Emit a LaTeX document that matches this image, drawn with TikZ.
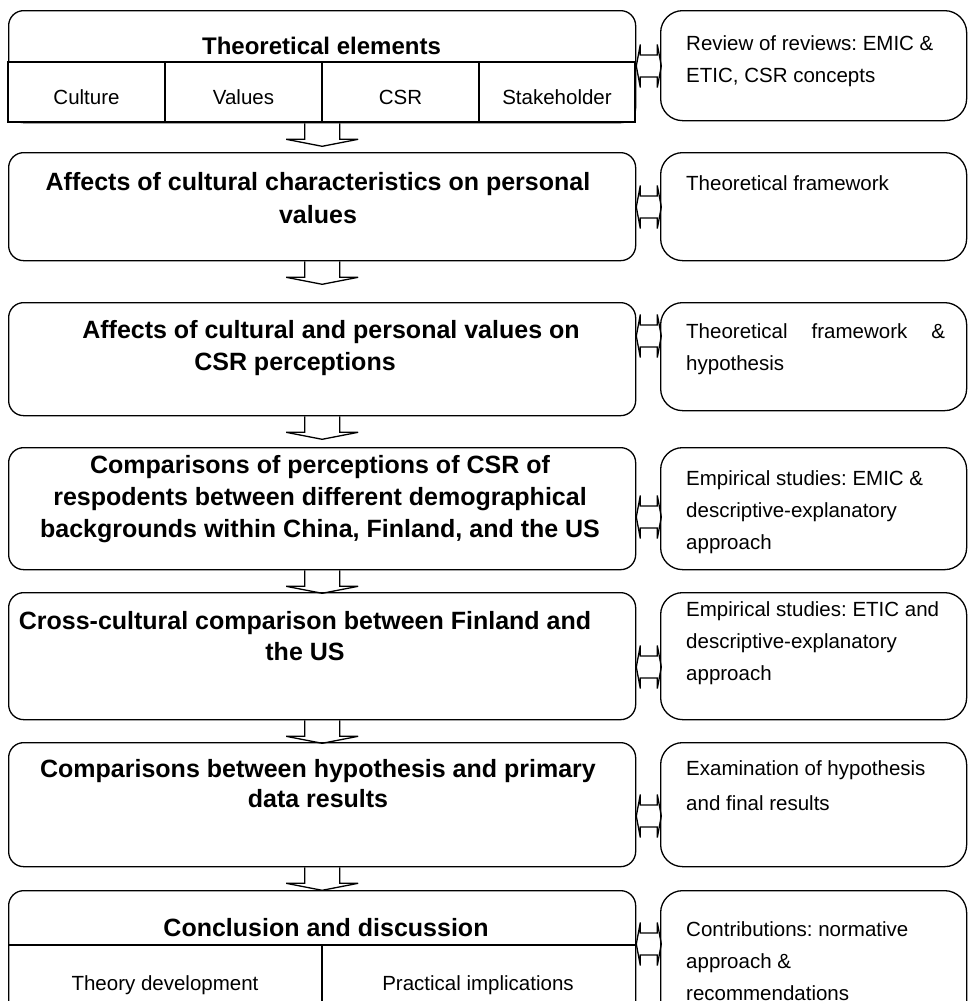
\documentclass[tikz,border=0pt]{standalone}
\usepackage{fontspec}
\setmainfont{Liberation Sans}
\frenchspacing
\begin{document}
\begin{tikzpicture}[x=1pt,y=-1pt,
  box/.style={draw,line width=1.3pt,rounded corners=15pt,inner sep=0pt,anchor=north west},
  rbox/.style={draw,line width=1.3pt,rounded corners=22pt,inner sep=0pt,anchor=north west,minimum width=306pt},
  sqbox/.style={draw,line width=1.3pt,fill=white},
  mtext/.style={font=\fontsize{25}{32}\selectfont\bfseries,align=center,inner sep=0pt},
  ctext/.style={font=\fontsize{20.5}{30}\selectfont,inner sep=0pt},
  rtext/.style={font=\fontsize{20.5}{32}\selectfont,align=left,inner sep=0pt,anchor=west},
  blk/.style={draw,line width=1.3pt,line join=miter}
]
\useasboundingbox (0,0) rectangle (968,1001);

% main boxes
\node[box,minimum width=627pt,minimum height=112pt] (b1) at (8,10) {};
\draw[sqbox] (8,62) rectangle (635,122);
\draw[line width=1.3pt] (165,62) -- (165,122) (322,62) -- (322,122) (479,62) -- (479,122);
\node[box,minimum width=627pt,minimum height=108pt] (b2) at (8,152) {};
\node[box,minimum width=627pt,minimum height=113pt] (b3) at (8,302) {};
\node[box,minimum width=627pt,minimum height=122pt] (b4) at (8,447) {};
\node[box,minimum width=627pt,minimum height=127pt] (b5) at (8,592) {};
\node[box,minimum width=627pt,minimum height=124pt] (b6) at (8,742) {};
\node[box,minimum width=627pt,minimum height=150pt] (b7) at (8,890) {};
\draw[line width=1.3pt] (8,945) -- (635,945) (322,945) -- (322,1040);

% right boxes
\node[rbox,minimum height=110pt] (r1) at (660,10) {};
\node[rbox,minimum height=108pt] (r2) at (660,152) {};
\node[rbox,minimum height=108pt] (r3) at (660,302) {};
\node[rbox,minimum height=122pt] (r4) at (660,447) {};
\node[rbox,minimum height=127pt] (r5) at (660,592) {};
\node[rbox,minimum height=124pt] (r6) at (660,742) {};
\node[rbox,minimum height=150pt] (r7) at (660,890) {};

% texts in main boxes
\node[mtext,font=\fontsize{24}{32}\selectfont\bfseries] (t1) at (321.5,46) {Theoretical elements};
\node[ctext] (c1) at (86.5,97) {Culture};
\node[ctext] (c2) at (243.5,97) {Values};
\node[ctext] (c3) at (400.5,97) {CSR};
\node[ctext] (c4) at (557,97) {Stakeholder};
\node[mtext,font=\fontsize{25}{33}\selectfont\bfseries] (t2) at (318,198.5) {Affects of cultural characteristics on personal\\values};
\node[mtext] (t3a) at (331,332) {Affects of cultural and personal values on};
\node[mtext] (t3b) at (295,364) {CSR perceptions};
\node[mtext] (t4) at (320,499) {Comparisons of perceptions of CSR of\\respodents between different demographical\\backgrounds within China, Finland, and the US};
\node[mtext,font=\fontsize{25}{31}\selectfont\bfseries] (t5) at (305,636) {Cross-cultural comparison between Finland and\\the US};
\node[mtext,font=\fontsize{25}{30}\selectfont\bfseries] (t6) at (318,784) {Comparisons between hypothesis and primary\\data results};
\node[mtext] (t7) at (326,928) {Conclusion and discussion};
\node[ctext] (c5) at (165,985) {Theory development};
\node[ctext] (c6) at (478,985) {Practical implications};

% texts in right boxes
\node[rtext] (s1) at (686,61) {Review of reviews: EMIC \&\\ETIC, CSR concepts};
\node[rtext] (s2) at (686,183) {Theoretical framework};
\node[rtext] (s3) at (686,349) {\makebox[259pt][s]{Theoretical\hfill framework\hfill \&}\\hypothesis};
\node[rtext] (s4) at (686,512.5) {Empirical studies: EMIC \&\\descriptive-explanatory\\approach};
\node[rtext] (s5) at (686,643) {Empirical studies: ETIC and\\descriptive-explanatory\\approach};
\node[rtext,font=\fontsize{20.5}{35}\selectfont] (s6) at (686,786) {Examination of hypothesis\\and final results};
\node[rtext] (s7) at (686,961) {Contributions: normative\\approach \&\\recommendations};

% down block arrows
\foreach \n in {b1,b2,b3,b4,b5,b6}{
  \draw[blk] ([xshift=-17.5pt]\n.south) -- ++(0,16) -- ++(-18.5,0) -- ++(36,7) -- ++(36,-7) -- ++(-18.5,0) -- ++(0,-16);
}

% double block arrows
\foreach \n/\yy in {b1/66,b2/207,b3/336,b4/517,b5/667,b6/816,b7/944}{
  \draw[blk] (\n.east |- 0,\yy) -- ++(4,-21.5) -- ++(0,10.5) -- ++(17,0) -- ++(0,-10.5) -- ++(4,21.5) -- ++(-4,21.5) -- ++(0,-10.5) -- ++(-17,0) -- ++(0,10.5) -- cycle;
}
\end{tikzpicture}
\end{document}
